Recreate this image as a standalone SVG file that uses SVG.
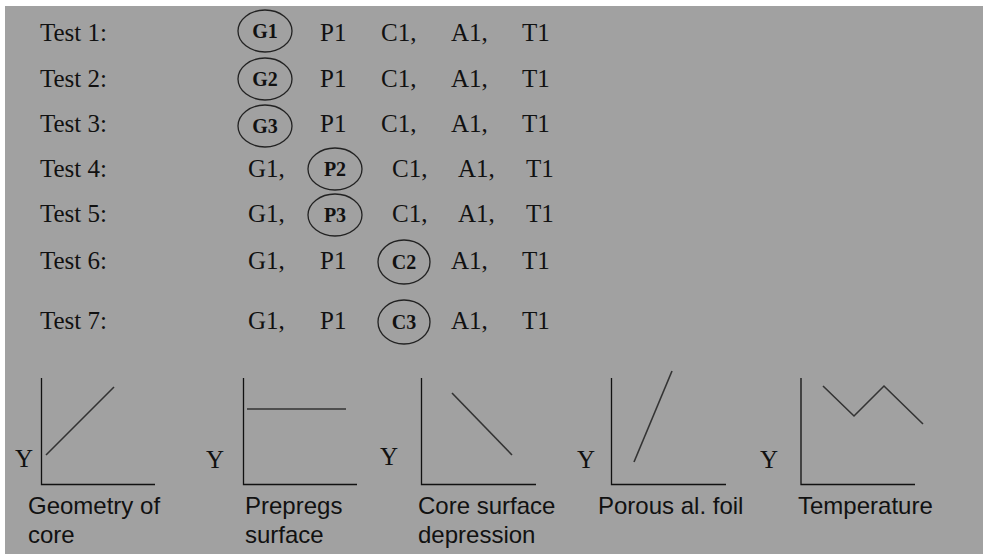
<svg xmlns="http://www.w3.org/2000/svg" width="983" height="554" viewBox="0 0 983 554">
  <style>
    .serif { font-family: "Liberation Serif", "Times New Roman", serif; font-size: 25px; fill: #111; }
    .tag { font-family: "Liberation Serif", "Times New Roman", serif; font-size: 20px; font-weight: bold; fill: #111; text-anchor: middle; }
    .ring { fill: none; stroke: #222; stroke-width: 1.3; }
    .axis { fill: none; stroke: #111; stroke-width: 1.3; }
    .curve { fill: none; stroke: #333; stroke-width: 1.6; }
    .cap { font-family: "Liberation Sans", Arial, sans-serif; font-size: 24px; fill: #111; }
  </style>

  <!-- page -->
  <rect x="0" y="0" width="983" height="554" fill="#ffffff"/>
  <rect x="5" y="6" width="978" height="548" fill="#a1a1a1"/>

  <!-- test matrix: rows 1-3 vary geometry -->
  <g id="test1">
    <text class="serif" x="40" y="41">Test 1:</text>
    <ellipse class="ring" cx="265" cy="31" rx="27" ry="21"/>
    <text class="tag" x="265" y="38">G1</text>
    <text class="serif" x="320" y="41">P1</text>
    <text class="serif" x="381" y="41">C1,</text>
    <text class="serif" x="451" y="41">A1,</text>
    <text class="serif" x="522" y="41">T1</text>
  </g>
  <g id="test2">
    <text class="serif" x="40" y="87">Test 2:</text>
    <ellipse class="ring" cx="265" cy="79" rx="27" ry="21"/>
    <text class="tag" x="265" y="86">G2</text>
    <text class="serif" x="320" y="87">P1</text>
    <text class="serif" x="381" y="87">C1,</text>
    <text class="serif" x="451" y="87">A1,</text>
    <text class="serif" x="522" y="87">T1</text>
  </g>
  <g id="test3">
    <text class="serif" x="40" y="132">Test 3:</text>
    <ellipse class="ring" cx="265" cy="126" rx="27" ry="21"/>
    <text class="tag" x="265" y="133">G3</text>
    <text class="serif" x="320" y="132">P1</text>
    <text class="serif" x="381" y="132">C1,</text>
    <text class="serif" x="451" y="132">A1,</text>
    <text class="serif" x="522" y="132">T1</text>
  </g>

  <!-- rows 4-5 vary prepreg -->
  <g id="test4">
    <text class="serif" x="40" y="177">Test 4:</text>
    <text class="serif" x="248" y="177">G1,</text>
    <ellipse class="ring" cx="335" cy="169" rx="27" ry="21"/>
    <text class="tag" x="335" y="176">P2</text>
    <text class="serif" x="392" y="177">C1,</text>
    <text class="serif" x="458" y="177">A1,</text>
    <text class="serif" x="526" y="177">T1</text>
  </g>
  <g id="test5">
    <text class="serif" x="40" y="222">Test 5:</text>
    <text class="serif" x="248" y="222">G1,</text>
    <ellipse class="ring" cx="335" cy="215" rx="27" ry="21"/>
    <text class="tag" x="335" y="222">P3</text>
    <text class="serif" x="392" y="222">C1,</text>
    <text class="serif" x="458" y="222">A1,</text>
    <text class="serif" x="526" y="222">T1</text>
  </g>

  <!-- rows 6-7 vary core surface -->
  <g id="test6">
    <text class="serif" x="40" y="269">Test 6:</text>
    <text class="serif" x="248" y="269">G1,</text>
    <text class="serif" x="320" y="269">P1</text>
    <ellipse class="ring" cx="404" cy="262" rx="26" ry="22"/>
    <text class="tag" x="404" y="269">C2</text>
    <text class="serif" x="451" y="269">A1,</text>
    <text class="serif" x="522" y="269">T1</text>
  </g>
  <g id="test7">
    <text class="serif" x="40" y="329">Test 7:</text>
    <text class="serif" x="248" y="329">G1,</text>
    <text class="serif" x="320" y="329">P1</text>
    <ellipse class="ring" cx="404" cy="322" rx="26" ry="22"/>
    <text class="tag" x="404" y="329">C3</text>
    <text class="serif" x="451" y="329">A1,</text>
    <text class="serif" x="522" y="329">T1</text>
  </g>

  <!-- trend sketches -->
  <g id="chart-geometry">
    <text class="serif" x="15" y="467">Y</text>
    <path class="axis" d="M41.5 378 V484.5 H155"/>
    <path class="curve" d="M46 455 L114 387"/>
    <text class="cap" x="28" y="514">Geometry of</text>
    <text class="cap" x="28" y="543">core</text>
  </g>
  <g id="chart-prepregs">
    <text class="serif" x="206" y="468">Y</text>
    <path class="axis" d="M243.5 378 V484.5 H357"/>
    <path class="curve" d="M247 409 H346"/>
    <text class="cap" x="245" y="514">Prepregs</text>
    <text class="cap" x="245" y="543">surface</text>
  </g>
  <g id="chart-core-surface">
    <text class="serif" x="380" y="465">Y</text>
    <path class="axis" d="M421.5 378 V484.5 H536"/>
    <path class="curve" d="M452 393 L512 455"/>
    <text class="cap" x="418" y="514">Core surface</text>
    <text class="cap" x="418" y="543">depression</text>
  </g>
  <g id="chart-foil">
    <text class="serif" x="577" y="468">Y</text>
    <path class="axis" d="M611.5 378 V484.5 H726"/>
    <path class="curve" d="M634 462 L672 371"/>
    <text class="cap" x="598" y="514">Porous al. foil</text>
  </g>
  <g id="chart-temperature">
    <text class="serif" x="760" y="468">Y</text>
    <path class="axis" d="M801 378 V484.5 H915"/>
    <path class="curve" d="M823 386 L854 416 L884 386 L923 424"/>
    <text class="cap" x="798" y="514">Temperature</text>
  </g>
</svg>
